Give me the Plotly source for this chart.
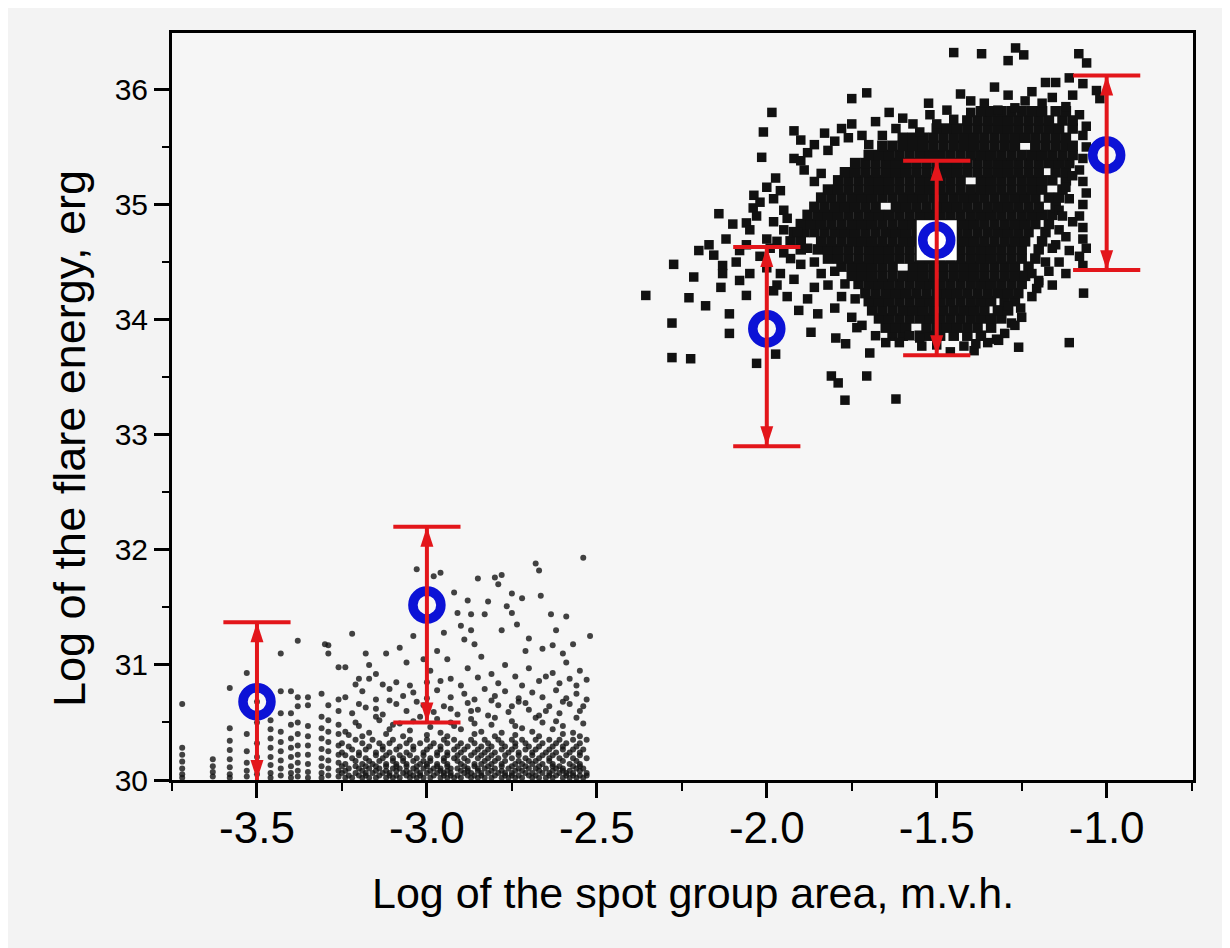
import plotly.graph_objects as go

# ---------------- data ----------------
x_ticks = [-3.5, -3.0, -2.5, -2.0, -1.5, -1.0]
x_tick_labels = ["-3.5", "-3.0", "-2.5", "-2.0", "-1.5", "-1.0"]
y_ticks = [30, 31, 32, 33, 34, 35, 36]
y_tick_labels = ["30", "31", "32", "33", "34", "35", "36"]

# mean values (blue circles) and ranges (red arrows)
bar_x = [-3.5, -3.0, -2.0, -1.5, -1.0]
circle_y = [30.68, 31.52, 33.92, 34.69, 35.43]
bar_low = [30.0, 30.5, 32.9, 33.69, 34.43]
bar_high = [31.37, 32.2, 34.63, 35.38, 36.12]

# ---- small spot groups (lower cluster) ----
lower_columns = [
    (-3.72, 30.66), (-3.72, 30.28), (-3.72, 30.22), (-3.72, 30.16), (-3.72, 30.10), (-3.72, 30.05), (-3.72, 30.02),
    (-3.63, 30.18), (-3.63, 30.12), (-3.63, 30.07), (-3.63, 30.03),
    (-3.58, 30.80), (-3.58, 30.45), (-3.58, 30.34), (-3.58, 30.26), (-3.58, 30.18), (-3.58, 30.11), (-3.58, 30.05), (-3.58, 30.02),
    (-3.53, 30.93), (-3.53, 30.62), (-3.53, 30.40), (-3.53, 30.25), (-3.53, 30.15), (-3.53, 30.08), (-3.53, 30.03),
    (-3.50, 30.68), (-3.50, 30.50), (-3.50, 30.32), (-3.50, 30.20), (-3.50, 30.12), (-3.50, 30.05),
    (-3.46, 30.52), (-3.46, 30.44), (-3.46, 30.36), (-3.46, 30.28), (-3.46, 30.20), (-3.46, 30.13), (-3.46, 30.06), (-3.46, 30.02),
    (-3.43, 31.10), (-3.43, 30.77), (-3.43, 30.58), (-3.43, 30.42), (-3.43, 30.33), (-3.43, 30.25), (-3.43, 30.17), (-3.43, 30.10), (-3.43, 30.04),
    (-3.40, 30.77), (-3.40, 30.58), (-3.40, 30.48), (-3.40, 30.36), (-3.40, 30.28), (-3.40, 30.20), (-3.40, 30.12), (-3.40, 30.06), (-3.40, 30.02),
    (-3.38, 31.21), (-3.38, 30.72), (-3.38, 30.64), (-3.38, 30.50), (-3.38, 30.40), (-3.38, 30.30), (-3.38, 30.22), (-3.38, 30.15), (-3.38, 30.08), (-3.38, 30.03),
    (-3.35, 30.72), (-3.35, 30.65), (-3.35, 30.47), (-3.35, 30.38), (-3.35, 30.30), (-3.35, 30.22), (-3.35, 30.14), (-3.35, 30.07), (-3.35, 30.02),
    (-3.31, 30.75), (-3.31, 30.55), (-3.31, 30.45), (-3.31, 30.36), (-3.31, 30.27), (-3.31, 30.19), (-3.31, 30.12), (-3.31, 30.06), (-3.31, 30.02),
    (-3.29, 31.17), (-3.29, 31.10), (-3.29, 30.65), (-3.29, 30.52), (-3.29, 30.42), (-3.29, 30.33), (-3.29, 30.25), (-3.29, 30.17), (-3.29, 30.10), (-3.29, 30.04),
    (-3.26, 30.98), (-3.26, 30.70), (-3.26, 30.60), (-3.26, 30.48), (-3.26, 30.40), (-3.26, 30.30), (-3.26, 30.22), (-3.26, 30.15), (-3.26, 30.08), (-3.26, 30.03),
]

lower_row_y = [30.02, 30.04, 30.06, 30.08, 30.10, 30.12, 30.14, 30.165, 30.19, 30.215, 30.24, 30.265, 30.29, 30.32, 30.35]
lower_row_x = [
    [-3.24, -3.22, -3.19, -3.17, -3.15, -3.12, -3.10, -3.08, -3.05, -3.03, -3.01, -2.99, -2.96, -2.94, -2.92, -2.90,
     -2.87, -2.85, -2.83, -2.81, -2.78, -2.76, -2.74, -2.72, -2.69, -2.67, -2.65, -2.63, -2.60, -2.58, -2.56, -2.54],
    [-3.23, -3.20, -3.18, -3.14, -3.11, -3.09, -3.06, -3.04, -3.02, -2.98, -2.95, -2.93, -2.91, -2.88, -2.86, -2.84,
     -2.80, -2.77, -2.75, -2.73, -2.70, -2.68, -2.64, -2.62, -2.59, -2.57, -2.55, -2.53],
    [-3.25, -3.21, -3.18, -3.16, -3.13, -3.11, -3.07, -3.05, -3.02, -3.00, -2.97, -2.95, -2.93, -2.89, -2.87, -2.84,
     -2.82, -2.79, -2.77, -2.75, -2.71, -2.69, -2.66, -2.64, -2.61, -2.59, -2.57, -2.53],
    [-3.24, -3.19, -3.15, -3.12, -3.09, -3.06, -3.03, -2.99, -2.96, -2.94, -2.90, -2.88, -2.85, -2.81, -2.78, -2.74,
     -2.72, -2.67, -2.63, -2.60, -2.58, -2.55],
    [-3.23, -3.20, -3.17, -3.14, -3.10, -3.08, -3.04, -3.01, -2.98, -2.96, -2.93, -2.91, -2.88, -2.85, -2.83, -2.80,
     -2.76, -2.73, -2.70, -2.68, -2.65, -2.62, -2.60, -2.56, -2.54],
    [-3.25, -3.21, -3.18, -3.15, -3.12, -3.09, -3.06, -3.03, -3.00, -2.97, -2.94, -2.89, -2.86, -2.82, -2.78, -2.75,
     -2.71, -2.67, -2.63, -2.61, -2.57, -2.55],
    [-3.24, -3.19, -3.16, -3.12, -3.09, -3.06, -3.02, -3.00, -2.97, -2.94, -2.90, -2.86, -2.84, -2.81, -2.78, -2.74,
     -2.72, -2.69, -2.66, -2.63, -2.58, -2.55],
    [-3.21, -3.17, -3.14, -3.10, -3.07, -3.04, -3.01, -2.99, -2.95, -2.91, -2.88, -2.83, -2.80, -2.77, -2.73, -2.70,
     -2.68, -2.64, -2.60, -2.56],
    [-3.22, -3.18, -3.13, -3.10, -3.07, -3.03, -2.99, -2.95, -2.92, -2.89, -2.85, -2.82, -2.79, -2.75, -2.71, -2.67,
     -2.64, -2.61, -2.57, -2.53],
    [-3.24, -3.20, -3.15, -3.12, -3.08, -3.05, -3.01, -2.97, -2.94, -2.91, -2.87, -2.84, -2.81, -2.77, -2.73, -2.69,
     -2.66, -2.63, -2.59, -2.55],
    [-3.25, -3.20, -3.15, -3.11, -3.06, -3.01, -2.97, -2.94, -2.90, -2.86, -2.83, -2.80, -2.76, -2.73, -2.69, -2.65,
     -2.62, -2.58, -2.55],
    [-3.22, -3.18, -3.13, -3.09, -3.04, -3.00, -2.96, -2.92, -2.89, -2.85, -2.82, -2.78, -2.75, -2.71, -2.68, -2.64,
     -2.60, -2.57, -2.54],
    [-3.23, -3.17, -3.13, -3.08, -3.04, -2.99, -2.96, -2.91, -2.88, -2.84, -2.81, -2.77, -2.74, -2.70, -2.67, -2.63,
     -2.60, -2.56],
    [-3.25, -3.19, -3.14, -3.11, -3.06, -3.02, -2.98, -2.94, -2.90, -2.86, -2.82, -2.78, -2.74, -2.71, -2.66, -2.62,
     -2.59, -2.55],
    [-3.21, -3.16, -3.10, -3.05, -3.00, -2.95, -2.92, -2.87, -2.83, -2.79, -2.75, -2.72, -2.68, -2.64, -2.61, -2.57, -2.53],
]

lower_mid = [
    (-3.24, 30.42), (-3.20, 30.47), (-3.17, 30.41), (-3.14, 30.52), (-3.11, 30.44), (-3.08, 30.49), (-3.05, 30.43),
    (-3.02, 30.55), (-2.99, 30.46), (-2.96, 30.41), (-2.93, 30.50), (-2.90, 30.44), (-2.87, 30.53), (-2.84, 30.42),
    (-2.81, 30.48), (-2.78, 30.41), (-2.75, 30.51), (-2.72, 30.45), (-2.69, 30.42), (-2.66, 30.50), (-2.63, 30.44),
    (-2.60, 30.47), (-2.57, 30.41), (-2.54, 30.49),
    (-3.22, 30.58), (-3.18, 30.63), (-3.13, 30.57), (-3.09, 30.66), (-3.06, 30.60), (-3.03, 30.68), (-2.98, 30.59),
    (-2.95, 30.64), (-2.91, 30.57), (-2.88, 30.67), (-2.85, 30.61), (-2.82, 30.56), (-2.79, 30.65), (-2.76, 30.59),
    (-2.73, 30.68), (-2.70, 30.61), (-2.67, 30.56), (-2.64, 30.64), (-2.61, 30.58), (-2.58, 30.66), (-2.55, 30.60),
    (-3.24, 30.72), (-3.19, 30.77), (-3.15, 30.70), (-3.11, 30.79), (-3.07, 30.73), (-3.04, 30.76), (-3.00, 30.71),
    (-2.97, 30.78), (-2.93, 30.72), (-2.89, 30.75), (-2.86, 30.70), (-2.83, 30.79), (-2.80, 30.73), (-2.77, 30.77),
    (-2.73, 30.71), (-2.69, 30.76), (-2.66, 30.72), (-2.62, 30.78), (-2.59, 30.71), (-2.56, 30.75), (-2.53, 30.70),
    (-3.23, 30.39), (-3.19, 30.38), (-3.12, 30.40), (-3.07, 30.38), (-3.00, 30.39), (-2.94, 30.38), (-2.86, 30.40),
    (-2.80, 30.38), (-2.74, 30.39), (-2.67, 30.38), (-2.60, 30.40), (-2.55, 30.38),
    (-3.21, 30.50), (-3.15, 30.55), (-3.10, 30.48), (-3.04, 30.51), (-2.97, 30.53), (-2.92, 30.47), (-2.86, 30.49),
    (-2.80, 30.54), (-2.74, 30.47), (-2.68, 30.54), (-2.62, 30.51), (-2.56, 30.54),
    (-3.20, 30.66), (-3.15, 30.62), (-3.11, 30.69), (-3.01, 30.65), (-2.93, 30.62), (-2.87, 30.60), (-2.81, 30.69),
    (-2.75, 30.64), (-2.71, 30.67), (-2.65, 30.60), (-2.60, 30.68), (-2.54, 30.64),
    (-3.21, 30.83), (-3.17, 30.88), (-3.05, 30.82), (-2.96, 30.86), (-2.90, 30.82), (-2.85, 30.89), (-2.79, 30.84),
    (-2.72, 30.82), (-2.65, 30.90), (-2.58, 30.88),
]

lower_sparse = [
    (-3.30, 31.18), (-3.22, 31.27), (-3.18, 31.10), (-3.12, 31.10), (-3.24, 30.98), (-3.20, 30.88), (-3.15, 30.92),
    (-3.09, 30.85), (-3.06, 31.02), (-3.03, 31.83), (-2.96, 31.80), (-2.98, 31.77), (-2.92, 31.63), (-2.85, 31.75),
    (-2.80, 31.76), (-2.78, 31.78), (-2.79, 31.70), (-2.68, 31.88), (-2.67, 31.82), (-2.665, 31.60), (-2.54, 31.93),
    (-2.88, 31.56), (-2.87, 31.44), (-2.83, 31.44), (-2.765, 31.51), (-2.75, 31.45), (-2.75, 31.62), (-2.735, 31.35),
    (-2.78, 31.30), (-2.635, 31.44), (-2.52, 31.25), (-2.90, 31.34), (-2.87, 31.30), (-2.89, 31.22), (-2.86, 31.18),
    (-2.70, 31.23), (-2.71, 31.12), (-2.66, 31.14), (-2.63, 31.17), (-2.60, 31.10), (-2.57, 31.18), (-2.59, 31.42),
    (-2.59, 31.02), (-2.55, 30.95), (-2.97, 31.12), (-2.94, 31.05), (-2.99, 30.95), (-2.93, 30.88), (-2.88, 30.97),
    (-2.84, 31.07), (-2.81, 30.92), (-2.77, 31.00), (-2.74, 30.90), (-2.70, 30.97), (-2.67, 30.86), (-2.63, 30.93),
    (-2.61, 30.84), (-2.56, 30.82), (-2.53, 30.87), (-3.01, 31.05), (-3.04, 31.25), (-2.82, 31.55), (-2.72, 31.58),
    (-2.62, 31.30), (-3.13, 30.83), (-3.17, 31.00), (-3.08, 31.15), (-3.00, 30.85), (-2.95, 31.28), (-2.91, 31.45),
]

# ---- large spot groups (upper cluster): dense core read row by row ----
upper_row_y = [33.86, 33.93, 34.01, 34.08, 34.16, 34.23, 34.31, 34.38, 34.46, 34.53, 34.61, 34.68, 34.76,
               34.83, 34.91, 34.98, 35.06, 35.13, 35.21, 35.28, 35.36, 35.43, 35.51, 35.58, 35.66, 35.73, 35.81]
upper_row_x = [
    [-1.63, -1.60, -1.55, -1.52, -1.49, -1.45, -1.41, -1.37],
    [-1.65, -1.62, -1.59, -1.53, -1.50, -1.47, -1.44, -1.41, -1.38, -1.34],
    [-1.67, -1.64, -1.61, -1.58, -1.55, -1.52, -1.49, -1.46, -1.43, -1.40, -1.37, -1.34, -1.31],
    [-1.69, -1.66, -1.63, -1.60, -1.57, -1.54, -1.51, -1.48, -1.45, -1.42, -1.39, -1.36, -1.32, -1.29],
    [-1.70, -1.67, -1.64, -1.61, -1.58, -1.55, -1.52, -1.49, -1.46, -1.43, -1.40, -1.37, -1.34, -1.30, -1.27],
    [-1.71, -1.68, -1.65, -1.62, -1.59, -1.56, -1.53, -1.50, -1.47, -1.44, -1.41, -1.38, -1.35, -1.32, -1.29, -1.26],
    [-1.73, -1.70, -1.67, -1.64, -1.61, -1.58, -1.55, -1.52, -1.49, -1.46, -1.43, -1.40, -1.37, -1.34, -1.31,
     -1.28, -1.25],
    [-1.75, -1.72, -1.69, -1.66, -1.63, -1.60, -1.57, -1.54, -1.51, -1.48, -1.45, -1.42, -1.39, -1.36, -1.33,
     -1.30, -1.27, -1.24],
    [-1.78, -1.75, -1.72, -1.69, -1.66, -1.63, -1.57, -1.54, -1.51, -1.48, -1.45, -1.42, -1.39, -1.36, -1.33,
     -1.30, -1.27, -1.23],
    [-1.82, -1.79, -1.76, -1.73, -1.70, -1.67, -1.64, -1.61, -1.58, -1.55, -1.52, -1.49, -1.46, -1.43, -1.40,
     -1.37, -1.34, -1.31, -1.28, -1.25, -1.21],
    [-1.90, -1.85, -1.82, -1.79, -1.76, -1.73, -1.70, -1.67, -1.64, -1.61, -1.58, -1.55, -1.52, -1.49, -1.46,
     -1.43, -1.40, -1.37, -1.34, -1.31, -1.28, -1.25, -1.20],
    [-1.93, -1.90, -1.84, -1.81, -1.78, -1.75, -1.72, -1.69, -1.66, -1.63, -1.60, -1.57, -1.54, -1.51, -1.48,
     -1.45, -1.42, -1.39, -1.36, -1.33, -1.30, -1.27, -1.24, -1.19],
    [-1.92, -1.89, -1.86, -1.83, -1.80, -1.77, -1.74, -1.71, -1.68, -1.65, -1.62, -1.59, -1.56, -1.53, -1.50,
     -1.47, -1.44, -1.41, -1.38, -1.35, -1.32, -1.29, -1.26, -1.23, -1.18],
    [-1.90, -1.87, -1.84, -1.81, -1.78, -1.75, -1.72, -1.69, -1.66, -1.63, -1.60, -1.57, -1.54, -1.51, -1.48,
     -1.45, -1.42, -1.39, -1.36, -1.33, -1.30, -1.27, -1.24, -1.21, -1.17],
    [-1.88, -1.85, -1.82, -1.79, -1.76, -1.73, -1.70, -1.67, -1.64, -1.61, -1.58, -1.55, -1.52, -1.49, -1.46,
     -1.43, -1.40, -1.37, -1.34, -1.31, -1.28, -1.25, -1.22, -1.19, -1.16],
    [-1.86, -1.83, -1.80, -1.77, -1.74, -1.71, -1.68, -1.62, -1.59, -1.56, -1.53, -1.50, -1.47, -1.44, -1.41,
     -1.38, -1.35, -1.32, -1.29, -1.26, -1.23, -1.20, -1.15],
    [-1.84, -1.81, -1.78, -1.75, -1.72, -1.69, -1.66, -1.63, -1.60, -1.57, -1.54, -1.51, -1.48, -1.45, -1.42,
     -1.39, -1.36, -1.33, -1.30, -1.27, -1.24, -1.21, -1.17, -1.14],
    [-1.82, -1.79, -1.76, -1.73, -1.70, -1.67, -1.64, -1.61, -1.58, -1.55, -1.52, -1.49, -1.46, -1.43, -1.40,
     -1.37, -1.34, -1.31, -1.28, -1.25, -1.22, -1.19, -1.13],
    [-1.79, -1.76, -1.73, -1.70, -1.67, -1.64, -1.61, -1.58, -1.55, -1.52, -1.49, -1.46, -1.43, -1.37, -1.34,
     -1.31, -1.28, -1.25, -1.22, -1.19, -1.16, -1.12],
    [-1.77, -1.74, -1.71, -1.68, -1.65, -1.62, -1.59, -1.56, -1.53, -1.50, -1.47, -1.44, -1.41, -1.38, -1.35,
     -1.32, -1.29, -1.26, -1.23, -1.20, -1.15, -1.12],
    [-1.74, -1.71, -1.68, -1.65, -1.62, -1.59, -1.56, -1.53, -1.50, -1.47, -1.44, -1.41, -1.38, -1.35, -1.32,
     -1.29, -1.26, -1.23, -1.20, -1.17, -1.14, -1.11],
    [-1.70, -1.67, -1.64, -1.61, -1.58, -1.55, -1.52, -1.49, -1.46, -1.43, -1.40, -1.37, -1.34, -1.31, -1.28,
     -1.25, -1.22, -1.19, -1.16, -1.13, -1.10],
    [-1.66, -1.63, -1.60, -1.57, -1.54, -1.51, -1.48, -1.45, -1.42, -1.39, -1.36, -1.33, -1.30, -1.27, -1.21,
     -1.18, -1.15, -1.12, -1.10],
    [-1.60, -1.57, -1.54, -1.51, -1.48, -1.45, -1.42, -1.39, -1.36, -1.33, -1.30, -1.27, -1.24, -1.21, -1.18,
     -1.15, -1.12],
    [-1.50, -1.47, -1.44, -1.41, -1.38, -1.35, -1.32, -1.29, -1.26, -1.23, -1.20, -1.17, -1.14, -1.10],
    [-1.41, -1.38, -1.35, -1.32, -1.29, -1.26, -1.23, -1.20, -1.17, -1.13, -1.10],
    [-1.37, -1.34, -1.31, -1.28, -1.25, -1.22, -1.19, -1.15, -1.12],
]

upper_sparse = [
    (-2.356, 34.21), (-2.279, 33.67), (-2.274, 34.48), (-2.279, 33.97), (-2.224, 33.66), (-2.215, 34.37),
    (-2.229, 34.19), (-2.18, 34.12), (-2.156, 34.56), (-2.13, 34.47), (-2.141, 34.92), (-2.13, 34.40),
    (-2.135, 34.28), (-2.11, 34.05), (-2.11, 33.88), (-2.10, 34.83), (-2.09, 34.50), (-2.08, 34.34),
    (-2.06, 34.84), (-2.05, 34.78), (-2.06, 34.21), (-2.038, 35.08), (-2.03, 33.62), (-2.015, 35.41),
    (-2.01, 35.63), (-1.985, 35.80), (-2.00, 35.15), (-1.974, 35.23), (-1.974, 33.70), (-2.00, 34.70),
    (-1.99, 34.62), (-2.00, 34.45), (-1.96, 34.40), (-1.97, 34.30), (-1.95, 34.95), (-1.94, 34.88),
    (-1.92, 35.40), (-1.90, 35.38), (-1.89, 35.30), (-1.92, 35.64), (-1.90, 35.56), (-1.86, 35.20),
    (-1.84, 35.27), (-1.95, 34.58), (-1.93, 34.53), (-1.91, 34.76), (-1.94, 34.20), (-1.906, 34.08),
    (-1.87, 33.89), (-1.88, 34.18), (-1.86, 34.28), (-1.85, 34.05), (-1.81, 33.51), (-1.79, 33.45),
    (-1.77, 33.30), (-1.797, 33.84), (-1.768, 33.79), (-1.735, 33.93), (-1.706, 33.51), (-1.697, 33.71),
    (-1.62, 33.31), (-1.61, 33.80), (-1.58, 33.86), (-1.544, 33.77), (-1.39, 33.73), (-1.385, 33.79),
    (-1.324, 33.83), (-1.259, 33.76), (-1.253, 34.10), (-1.206, 34.27), (-1.20, 34.34), (-1.28, 33.97),
    (-1.318, 33.82), (-1.11, 33.80), (-1.068, 34.23),
    (-2.04, 34.97), (-2.02, 35.02), (-1.98, 35.05), (-1.96, 35.12), (-1.88, 35.45), (-1.86, 35.52),
    (-1.83, 35.62), (-1.82, 35.47), (-1.80, 35.55), (-1.78, 35.66), (-1.76, 35.58), (-1.75, 35.70),
    (-1.72, 35.60), (-1.70, 35.52), (-1.68, 35.72), (-1.66, 35.60), (-1.64, 35.80), (-1.62, 35.66),
    (-1.60, 35.75), (-1.57, 35.70), (-1.55, 35.63), (-1.52, 35.78), (-1.50, 35.70), (-1.47, 35.82),
    (-1.45, 35.74),
    (-1.75, 35.92), (-1.706, 35.97), (-1.524, 35.88), (-1.45, 36.32), (-1.368, 36.31), (-1.29, 36.25),
    (-1.268, 36.36), (-1.244, 36.30), (-1.082, 36.31), (-1.059, 36.23), (-1.03, 35.99), (-1.02, 35.92),
    (-1.18, 36.06), (-1.15, 36.06), (-1.11, 36.10), (-1.33, 36.02), (-1.29, 35.95), (-1.24, 35.90),
    (-1.19, 35.88), (-1.12, 35.85), (-1.43, 35.96), (-1.40, 35.90), (-1.36, 35.88), (-1.32, 35.82),
    (-1.27, 35.84), (-1.22, 35.98), (-1.16, 35.93), (-1.10, 35.95), (-1.07, 36.05),
    (-1.40, 35.80), (-1.08, 35.78), (-1.06, 35.68),
    (-1.07, 35.60), (-1.06, 35.50), (-1.07, 35.40), (-1.08, 35.30), (-1.07, 35.20), (-1.06, 35.10),
    (-1.07, 35.00), (-1.08, 34.90), (-1.07, 34.80), (-1.07, 34.70), (-1.06, 34.62), (-1.08, 34.55),
    (-1.07, 34.47),
    (-1.10, 35.25), (-1.12, 35.15), (-1.11, 35.05),
    (-1.14, 34.95), (-1.10, 34.85), (-1.12, 34.72), (-1.15, 34.65), (-1.11, 34.60), (-1.14, 34.50),
    (-1.17, 34.42), (-1.12, 34.40), (-1.18, 34.50), (-1.16, 34.62), (-1.14, 34.78),
    (-1.13, 34.90), (-1.22, 34.40), (-1.20, 34.32), (-1.16, 34.30), (-1.22, 34.20),
    (-1.65, 33.80), (-1.50, 33.78), (-1.46, 33.72), (-1.42, 33.77), (-1.35, 33.80), (-1.30, 33.88),
    (-1.27, 33.95), (-1.25, 34.02), (-1.29, 34.12), (-1.55, 33.84), (-1.68, 33.86), (-1.72, 33.95),
    (-1.75, 34.02), (-1.80, 34.10), (-1.78, 34.20), (-1.82, 34.30), (-1.84, 34.40), (-1.86, 34.50),
    (-1.88, 34.62), (-1.97, 34.68), (-1.95, 34.78), (-1.98, 34.85), (-2.03, 34.90), (-2.06, 34.65),
    (-2.08, 34.60), (-2.02, 34.55), (-2.05, 34.40), (-1.98, 34.25), (-1.92, 34.35), (-1.90, 34.48),
    (-2.12, 34.70), (-2.17, 34.65), (-2.20, 34.60), (-1.80, 34.42), (-1.77, 34.31), (-1.74, 34.18),
]

# ---------------- build ----------------
def xs(pts):
    return [p[0] for p in pts]


def ys(pts):
    return [p[1] for p in pts]


lower_x = xs(lower_columns) + xs(lower_mid) + xs(lower_sparse)
lower_y = ys(lower_columns) + ys(lower_mid) + ys(lower_sparse)
for ry, row in zip(lower_row_y, lower_row_x):
    lower_x += row
    lower_y += [ry] * len(row)

core_x, core_y = [], []
for ry, row in zip(upper_row_y, upper_row_x):
    core_x += row
    core_y += [ry] * len(row)

RED = "#e3161b"
BLUE = "#0c12d6"
y_min, y_max = 30.0, 36.49

fig = go.Figure()

fig.add_trace(go.Scatter(
    x=lower_x, y=lower_y, mode="markers",
    marker=dict(symbol="circle", size=6, color="rgba(20,20,20,0.8)", line=dict(width=0)),
    hoverinfo="skip"))

fig.add_trace(go.Scatter(
    x=core_x, y=core_y, mode="markers",
    marker=dict(symbol="square", size=10.5, color="#111111", line=dict(width=0)),
    hoverinfo="skip"))
fig.add_trace(go.Scatter(
    x=xs(upper_sparse), y=ys(upper_sparse), mode="markers",
    marker=dict(symbol="square", size=9.5, color="#111111", line=dict(width=0)),
    hoverinfo="skip"))

# white patch behind the -1.5 circle (as in the figure)
halo_idx = [i for i, v in enumerate(bar_x) if v == -1.5]
fig.add_trace(go.Scatter(
    x=[bar_x[i] for i in halo_idx], y=[circle_y[i] for i in halo_idx], mode="markers",
    marker=dict(symbol="square", size=40, color="white", line=dict(width=0)),
    hoverinfo="skip"))

# blue circles (means)
fig.add_trace(go.Scatter(
    x=bar_x, y=circle_y, mode="markers",
    marker=dict(symbol="circle-open", size=28, color=BLUE, line=dict(width=9.5, color=BLUE)),
    hoverinfo="skip"))

# red vertical ranges
vx, vy = [], []
for bx, lo, hi in zip(bar_x, bar_low, bar_high):
    vx += [bx, bx, None]
    vy += [lo, hi, None]
fig.add_trace(go.Scatter(x=vx, y=vy, mode="lines", line=dict(color=RED, width=4), hoverinfo="skip"))

# caps
cap_x = list(bar_x) + [bx for bx, lo in zip(bar_x, bar_low) if lo > y_min]
cap_y = list(bar_high) + [lo for lo in bar_low if lo > y_min]
fig.add_trace(go.Scatter(
    x=cap_x, y=cap_y, mode="markers",
    marker=dict(symbol="line-ew", size=48, color=RED, line=dict(width=4, color=RED)),
    hoverinfo="skip"))

# arrowheads
fig.add_trace(go.Scatter(
    x=bar_x, y=bar_high, mode="markers",
    marker=dict(symbol="arrow", size=21, angle=0, color=RED, line=dict(width=0)),
    hoverinfo="skip"))
fig.add_trace(go.Scatter(
    x=bar_x, y=bar_low, mode="markers",
    marker=dict(symbol="arrow", size=21, angle=180, color=RED, line=dict(width=0)),
    hoverinfo="skip"))

FONT = "Liberation Sans, Arial, sans-serif"

fig.update_layout(
    width=1222, height=940,
    margin=dict(l=164, r=37, t=25, b=168),
    paper_bgcolor="#f3f3f3",
    plot_bgcolor="#f6f6f6",
    showlegend=False,
    font=dict(family=FONT, color="black"),
)

fig.update_xaxes(
    range=[-3.75, -0.746],
    tickvals=x_ticks, ticktext=x_tick_labels,
    tickfont=dict(size=44, family=FONT, color="black"),
    ticks="outside", ticklen=15, tickwidth=2.5, tickcolor="black",
    ticklabelstandoff=-8,
    minor=dict(ticks="outside", ticklen=8, tickwidth=2, tickcolor="black", dtick=0.25, tick0=-3.5),
    showline=True, linewidth=3, linecolor="black", mirror=True,
    showgrid=False, zeroline=False,
)
fig.update_yaxes(
    range=[y_min, y_max],
    tickvals=y_ticks, ticktext=y_tick_labels,
    tickfont=dict(size=30, family=FONT, color="black"),
    ticks="outside", ticklen=15, tickwidth=2.5, tickcolor="black",
    minor=dict(ticks="outside", ticklen=7, tickwidth=2, tickcolor="black", dtick=0.5, tick0=30),
    showline=True, linewidth=3, linecolor="black", mirror=True,
    showgrid=False, zeroline=False,
)

fig.add_annotation(
    text="Log of the spot group area, m.v.h.", xref="paper", yref="paper",
    x=0.510, y=-0.151, xanchor="center", yanchor="middle", showarrow=False,
    font=dict(size=43, family=FONT, color="black"))
fig.add_annotation(
    text="Log of the flare energy, erg", xref="paper", yref="paper",
    x=-0.0999, y=0.4565, xanchor="center", yanchor="middle", showarrow=False, textangle=-90,
    font=dict(size=45, family=FONT, color="black"))

fig.write_html("out.html")
